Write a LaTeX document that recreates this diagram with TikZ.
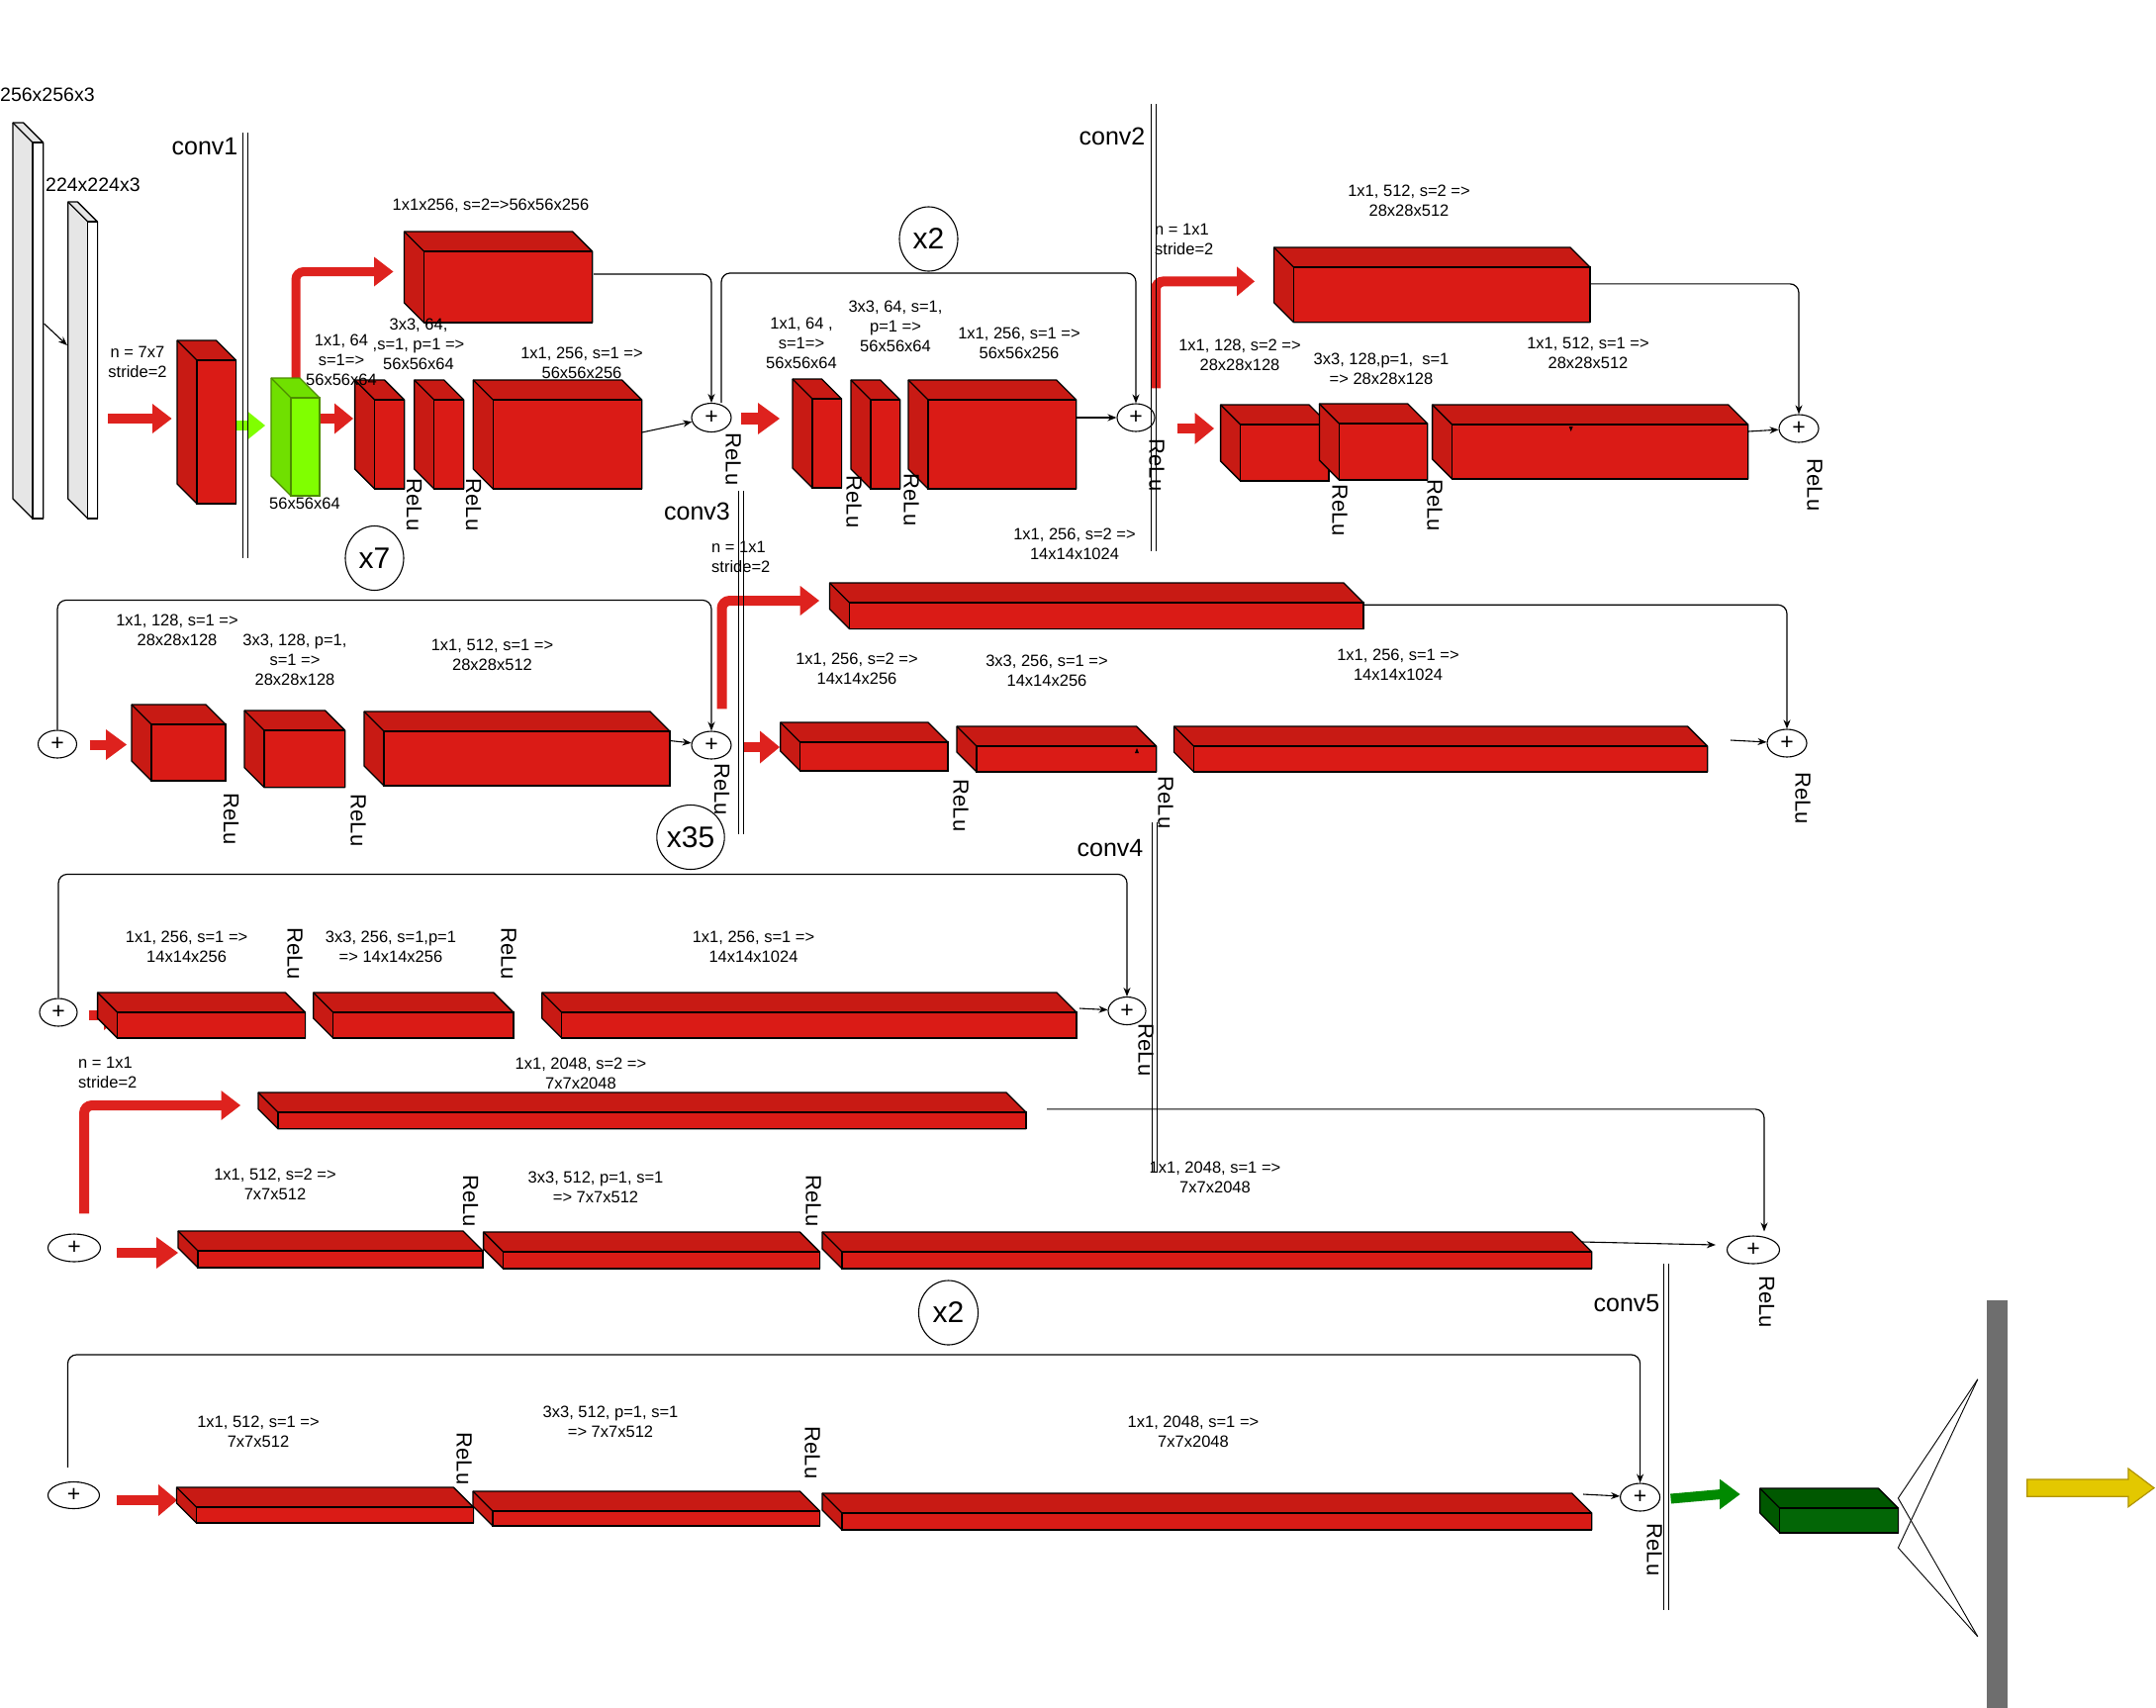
\documentclass[tikz,border=0pt]{standalone}
\usepackage{fontspec}
\setmainfont{Liberation Sans}
\usetikzlibrary{shapes.geometric,arrows.meta}
\pgfdeclarelayer{bg}\pgfdeclarelayer{fg}\pgfsetlayers{bg,main,fg}
\definecolor{rfront}{RGB}{218,27,22}
\definecolor{rside}{RGB}{200,26,20}
\definecolor{rarrow}{RGB}{222,34,30}
\definecolor{gfront}{RGB}{128,255,0}
\definecolor{gside}{RGB}{112,224,0}
\definecolor{gedge}{RGB}{76,140,0}
\definecolor{dgfront}{RGB}{3,102,6}
\definecolor{dgside}{RGB}{0,88,0}
\definecolor{dgarrow}{RGB}{0,138,0}
\definecolor{slabside}{RGB}{230,230,230}
\definecolor{barcol}{RGB}{110,110,110}
\definecolor{yfill}{RGB}{227,200,0}
\definecolor{yedge}{RGB}{176,148,0}
\tikzset{
 lbl/.style={font=\fontsize{16.5}{20}\selectfont, align=center, inner sep=0pt},
 relu/.style={font=\fontsize{22}{24}\selectfont, rotate=-90, inner sep=0pt},
 convlbl/.style={font=\fontsize{25}{30}\selectfont, inner sep=0pt},
 dimlbl/.style={font=\fontsize{19.5}{22}\selectfont, inner sep=0pt},
 plusnode/.style={draw, ellipse, line width=1.1pt, inner sep=0pt, font=\fontsize{23}{23}\selectfont, minimum width=40pt, minimum height=28pt},
 rep/.style={draw, ellipse, line width=1.1pt, inner sep=0pt, font=\fontsize{30}{30}\selectfont, minimum width=60pt, minimum height=65pt},
 thinarr/.style={line width=1.1pt, -{Stealth[length=9pt,width=7pt]}},
 skipline/.style={line width=1.2pt, rounded corners=9pt, -{Stealth[length=9pt,width=7pt]}},
 convline/.style={line width=0.8pt},
}
% cube: name, x1, y1, x2, y2 (front face), front colour, side colour, edge colour
\newcommand\cube[8]{%
  \filldraw[fill=#7, draw=#8, line width=1.3pt, line join=round]
    (#2-20,#3-20) -- (#4-20,#3-20) -- (#4,#3) -- (#4,#5) -- (#2,#5) -- (#2-20,#5-20) -- cycle;
  \node[draw=#8, line width=1.3pt, fill=#6, inner sep=0pt, outer sep=0pt,
        minimum width={#4-#2}, minimum height={#5-#3}] (#1) at ({(#2+#4)/2},{(#3+#5)/2}) {};
  \draw[#8, line width=1.3pt] (#2,#3) -- (#2-20,#3-20);
}
% straight fat arrow: colour, shaft width, head length, head half width, start name, tip name
\newcommand\fatH[6]{%
  \draw[#1, line width=#2] (#5) -- ([shift={(-#3+1,0)}]#6);
  \fill[#1] (#6) -- ([shift={(-#3,-#4)}]#6) -- ([shift={(-#3,#4)}]#6) -- cycle;
}
% L-shaped fat arrow (up then right)
\newcommand\fatL[6]{%
  \draw[#1, line width=#2, rounded corners=8pt] (#5) |- ([shift={(-#3+1,0)}]#6);
  \fill[#1] (#6) -- ([shift={(-#3,-#4)}]#6) -- ([shift={(-#3,#4)}]#6) -- cycle;
}
\begin{document}
\begin{tikzpicture}[x=1pt,y=-1pt]
\begin{pgfonlayer}{bg}
\fill[white] (0,0) rectangle (2179,1725);
\end{pgfonlayer}
\useasboundingbox (0,0) rectangle (2179,1725);

% ---------- boxes ----------
\cube{slab1}{33}{144}{43.6}{524}{white}{slabside}{black}
\cube{slab2}{88.7}{224}{98.4}{524}{white}{slabside}{black}
\cube{cbox1}{199}{364}{238.5}{509}{rfront}{rside}{black}
\cube{gbox}{294}{402}{323}{501}{gfront}{gside}{gedge}
\cube{S1}{428.5}{254}{598.6}{326}{rfront}{rside}{black}
\cube{a1}{378.6}{404}{408.6}{494}{rfront}{rside}{black}
\cube{a2}{438.7}{404}{468.7}{494}{rfront}{rside}{black}
\cube{a3}{498.3}{404}{648.6}{494}{rfront}{rside}{black}
\cube{b1}{821}{403}{850.5}{493}{rfront}{rside}{black}
\cube{b2}{880}{404}{909.7}{494}{rfront}{rside}{black}
\cube{b3}{938}{404}{1087.8}{494}{rfront}{rside}{black}
\cube{S2}{1307.5}{270}{1607}{325.7}{rfront}{rside}{black}
\cube{c1}{1253.6}{429}{1343}{486}{rfront}{rside}{black}
\cube{c2}{1353.4}{428}{1442.7}{485}{rfront}{rside}{black}
\cube{c3}{1467.6}{429}{1766.8}{484}{rfront}{rside}{black}
\cube{d1}{153}{732}{228}{789}{rfront}{rside}{black}
\cube{d2}{267}{738}{348.6}{795.7}{rfront}{rside}{black}
\cube{d3}{388}{739}{677}{794}{rfront}{rside}{black}
\cube{S3}{858.5}{609}{1378}{635.5}{rfront}{rside}{black}
\cube{e1}{808.7}{750}{958}{779}{rfront}{rside}{black}
\cube{e2}{987}{754}{1168.6}{780}{rfront}{rside}{black}
\cube{e3}{1206.5}{754}{1725.6}{780}{rfront}{rside}{black}
\cube{f1}{118.6}{1023}{308.4}{1049}{rfront}{rside}{black}
\cube{f2}{336.7}{1023}{518.9}{1049}{rfront}{rside}{black}
\cube{f3}{567.8}{1023}{1088}{1049}{rfront}{rside}{black}
\cube{S4}{281}{1124}{1037}{1140.7}{rfront}{rside}{black}
\cube{g1}{200}{1264}{488}{1281}{rfront}{rside}{black}
\cube{g2}{508.6}{1265}{828.4}{1282}{rfront}{rside}{black}
\cube{g3}{851}{1265}{1608.7}{1282}{rfront}{rside}{black}
\cube{h1}{198.5}{1523}{478.4}{1539}{rfront}{rside}{black}
\cube{h2}{498}{1527}{828.5}{1542}{rfront}{rside}{black}
\cube{h3}{851}{1529}{1608.7}{1546}{rfront}{rside}{black}
\cube{dgbox}{1798.8}{1524}{1918.4}{1549}{dgfront}{dgside}{black}

% tiny marks
\fill (1585.7,431) -- (1589.7,431) -- (1587.7,436) -- cycle;
\fill (1147,761) -- (1151,761) -- (1149,756) -- cycle;

% ---------- plus nodes ----------
\node[plusnode, minimum height=29pt] (p1) at (719,422) {+};
\node[plusnode, minimum width=38pt] (p2) at (1148,422) {+};
\node[plusnode] (p3) at (1818,433) {+};
\node[plusnode, minimum width=39pt] (p4) at (58,752) {+};
\node[plusnode] (p5) at (719,753) {+};
\node[plusnode] (p6) at (1806,751) {+};
\node[plusnode, minimum width=38pt] (p7) at (59,1023) {+};
\node[plusnode, minimum width=38pt] (p8) at (1139,1021.5) {+};
\node[plusnode, minimum width=53pt] (p9l) at (75,1261) {+};
\node[plusnode, minimum width=53pt] (p9) at (1772,1263) {+};
\node[plusnode, minimum width=52pt, minimum height=27pt] (p10) at (74.5,1511) {+};
\node[plusnode] (p11) at (1657.6,1513) {+};

% ---------- repetition marks ----------
\node[rep, minimum width=59pt] (x7) at (378.5,564) {x7};
\node[rep, minimum width=59pt] (x2a) at (938.5,241.5) {x2};
\node[rep] (x35) at (698,846) {x35};
\node[rep] (x2b) at (958.5,1326.5) {x2};

% ---------- output ----------
\node[fill=barcol, inner sep=0pt, minimum width=21pt, minimum height=412pt] (bar) at (2018.5,1520) {};
\filldraw[fill=yfill, draw=yedge, line width=1.2pt] (2048.7,1495) -- (2151,1495) -- (2151,1484) -- (2177,1503.6) -- (2151,1522.7) -- (2151,1512.3) -- (2048.7,1512.3) -- cycle;
\coordinate (fa1) at ([shift={(0,-10)}]dgbox.north east);
\coordinate (fa2) at ([shift={(0,15)}]dgbox.south east);
\coordinate (fb1) at ([shift={(-9,80)}]bar.north west);
\coordinate (fb2) at ([shift={(-9,340)}]bar.north west);
\draw[line width=0.9pt] (fb1) -- (fa1) -- (fb2);
\draw[line width=0.9pt] (fb1) -- (fa2) -- (fb2);

% ---------- arrow end coordinates ----------
\coordinate (r1s) at ([shift={(10.6,49)}]slab2.east);
\coordinate (r1t) at ([shift={(-25.5,-13.5)}]cbox1.west);
\coordinate (gls) at ([shift={(-4.5,-6.5)}]cbox1.east);
\coordinate (glt) at ([shift={(-26,-21.5)}]gbox.west);
\coordinate (r2s) at ([shift={(0,-28.5)}]gbox.east);
\coordinate (r2t) at ([shift={(-21.6,-26)}]a1.west);
\coordinate (r3s) at ([shift={(9.5,1)}]p1.east);
\coordinate (r3t) at ([shift={(-33,-25)}]b1.west);
\coordinate (r4s) at ([shift={(22,11)}]p2.east);
\coordinate (r4t) at ([shift={(-26.6,-24.5)}]c1.west);
\coordinate (r5s) at ([shift={(12.5,0.5)}]p4.east);
\coordinate (r5t) at ([shift={(-25,-8)}]d1.west);
\coordinate (r6s) at ([shift={(11.5,2)}]p5.east);
\coordinate (r6t) at ([shift={(-20.7,-9.5)}]e1.west);
\coordinate (r7s) at ([shift={(11,3)}]p7.east);
\coordinate (r7t) at ([shift={(6.4,-10)}]f1.west);
\coordinate (r8s) at ([shift={(15.7,5)}]p9l.east);
\coordinate (r8t) at ([shift={(-20,-6.5)}]g1.west);
\coordinate (r9s) at ([shift={(16.5,5)}]p10.east);
\coordinate (r9t) at ([shift={(-19.5,-15)}]h1.west);
\coordinate (l1s) at ([shift={(5,0)}]gbox.north west);
\coordinate (l1t) at ([shift={(-31,-15.5)}]S1.west);
\coordinate (l2s) at ([shift={(20,-15)}]p2.north);
\coordinate (l2t) at ([shift={(-39.5,-13.5)}]S2.west);
\coordinate (l3s) at ([shift={(10.5,-22)}]p5.north);
\coordinate (l3t) at ([shift={(-30.5,-15.25)}]S3.west);
\coordinate (l4s) at ([shift={(10,-20)}]p9l.north);
\coordinate (l4t) at ([shift={(-38,-15.35)}]S4.west);
\coordinate (dgs) at ([shift={(10.4,1.5)}]p11.east);
\coordinate (dgt) at ([shift={(-40.2,-26.5)}]dgbox.west);

\begin{pgfonlayer}{bg}
% skip connections
\draw[skipline] ([shift={(1.4,-13)}]S1.east) -| (p1.north);
\draw[skipline] ([shift={(10,0)}]p1.north) -- ++(0,-131) -| (p2.north);
\draw[skipline] ([shift={(0,-11)}]S2.east) -| (p3.north);
\draw[skipline] (p4.north) -- ++(0,-131) -| (p5.north);
\draw[skipline] ([shift={(0,-11)}]S3.east) -| (p6.north);
\draw[skipline] (p7.north) -- ++(0,-125) -| (p8.north);
\draw[skipline] ([shift={(21,-11.5)}]S4.east) -| ([shift={(11,-4)}]p9.north);
\draw[skipline] ([shift={(-6,-14)}]p10.north) -- ++(0,-114) -| (p11.north);
% fat arrows
\fatH{rarrow}{10}{19.5}{15}{r1s}{r1t}
\fatH{gfront}{10}{18}{14.5}{gls}{glt}
\fatH{rarrow}{10}{19}{15.5}{r2s}{r2t}
\fatH{rarrow}{12}{22}{16}{r3s}{r3t}
\fatH{rarrow}{10}{19.5}{16}{r4s}{r4t}
\fatH{rarrow}{10}{21}{15.5}{r5s}{r5t}
\fatH{rarrow}{10}{20}{16.5}{r6s}{r6t}
\fatH{rarrow}{10}{20}{15}{r7s}{r7t}
\fatH{rarrow}{10}{22}{16}{r8s}{r8t}
\fatH{rarrow}{10}{19}{16}{r9s}{r9t}
\fatL{rarrow}{9}{19.5}{15}{l1s}{l1t}
\fatL{rarrow}{10}{18}{15}{l2s}{l2t}
\fatL{rarrow}{10}{19.3}{15}{l3s}{l3t}
\fatL{rarrow}{10}{19.5}{15}{l4s}{l4t}
\fatH{dgarrow}{10}{20.5}{15.3}{dgs}{dgt}
\end{pgfonlayer}

% ---------- thin arrows ----------
\draw[thinarr] ([shift={(1,-7)}]slab1.east) -- ([shift={(-20.8,-25)}]slab2.west);
\draw[thinarr] ([shift={(0,-12)}]a3.east) -- (p1);
\draw[thinarr] ([shift={(0,-27)}]b3.east) -- (p2);
\draw[thinarr] ([shift={(0,-20.5)}]c3.east) -- (p3);
\draw[thinarr] ([shift={(0,-18)}]d3.east) -- (p5);
\draw[thinarr] ([shift={(23.4,-19)}]e3.east) -- (p6);
\draw[thinarr] ([shift={(3,-17)}]f3.east) -- (p8);
\draw[thinarr] ([shift={(-9.7,-18.5)}]g3.east) -- ([shift={(-11,-5)}]p9.west);
\draw[thinarr] ([shift={(-8.7,-27.5)}]h3.east) -- (p11);

% ---------- texts ----------
\node[dimlbl, anchor=west] (t256) at (0,96) {256x256x3};
\node[dimlbl, anchor=west] (t224) at (46,187) {224x224x3};
\node[convlbl] (cv1) at (207,148) {conv1};
\node[convlbl] (cv2) at (1124,138) {conv2};
\node[convlbl] (cv3) at (704.5,517) {conv3};
\node[convlbl] (cv4) at (1122,857) {conv4};
\node[convlbl] (cv5) at (1644,1317) {conv5};

\node[lbl] (n1) at (139,365.5) {n = 7x7\\stride=2};
\node[lbl, align=left, anchor=west] (n3) at (719,563) {n = 1x1\\stride=2};
\node[lbl, align=left, anchor=west] (n2) at (1167,242) {n = 1x1\\stride=2};
\node[lbl, align=left, anchor=west] (n5) at (79,1084) {n = 1x1\\stride=2};

\node[lbl] (lS1) at (496,208) {1x1x256, s=2=>56x56x256};
\node[lbl] (la1) at (345,364) {1x1, 64\\s=1=>\\56x56x64};
\node[lbl] (la2) at (423,348) {3x3, 64,\\,s=1, p=1 =>\\56x56x64};
\node[lbl] (la3) at (588,366.5) {1x1, 256, s=1 =>\\56x56x256};
\node[lbl] (lg) at (308,509) {56x56x64};
\node[lbl] (lb1) at (810,347) {1x1, 64 ,\\s=1=>\\56x56x64};
\node[lbl] (lb2) at (905,330) {3x3, 64, s=1,\\p=1 =>\\56x56x64};
\node[lbl] (lb3) at (1030,346.5) {1x1, 256, s=1 =>\\56x56x256};
\node[lbl] (lS2) at (1424,203) {1x1, 512, s=2 =>\\28x28x512};
\node[lbl] (lc1) at (1253,359) {1x1, 128, s=2 =>\\28x28x128};
\node[lbl] (lc2) at (1396,373) {3x3, 128,p=1,\ \ s=1\\=> 28x28x128};
\node[lbl] (lc3) at (1605,357) {1x1, 512, s=1 =>\\28x28x512};
\node[lbl] (lS3) at (1086,549.5) {1x1, 256, s=2 =>\\14x14x1024};
\node[lbl] (ld1) at (179,637) {1x1, 128, s=1 =>\\28x28x128};
\node[lbl] (ld2) at (298,667) {3x3, 128, p=1,\\s=1 =>\\28x28x128};
\node[lbl] (ld3) at (497.5,662) {1x1, 512, s=1 =>\\28x28x512};
\node[lbl] (le1) at (866,675.5) {1x1, 256, s=2 =>\\14x14x256};
\node[lbl] (le2) at (1058,677.5) {3x3, 256, s=1 =>\\14x14x256};
\node[lbl] (le3) at (1413,671.5) {1x1, 256, s=1 =>\\14x14x1024};
\node[lbl] (lf1) at (188.6,956.7) {1x1, 256, s=1 =>\\14x14x256};
\node[lbl] (lf2) at (395,956.7) {3x3, 256, s=1,p=1\\=> 14x14x256};
\node[lbl] (lf3) at (761.5,956.7) {1x1, 256, s=1 =>\\14x14x1024};
\node[lbl] (lS4) at (587,1085) {1x1, 2048, s=2 =>\\7x7x2048};
\node[lbl] (lg1) at (278,1197) {1x1, 512, s=2 =>\\7x7x512};
\node[lbl] (lg2) at (602,1199.5) {3x3, 512, p=1, s=1\\=> 7x7x512};
\node[lbl] (lg3) at (1228,1189.5) {1x1, 2048, s=1 =>\\7x7x2048};
\node[lbl] (lh1) at (261,1447) {1x1, 512, s=1 =>\\7x7x512};
\node[lbl] (lh2) at (617,1436.5) {3x3, 512, p=1, s=1\\=> 7x7x512};
\node[lbl] (lh3) at (1206,1447) {1x1, 2048, s=1 =>\\7x7x2048};

\node[relu] (ra1) at (418.5,510) {ReLu};
\node[relu] (ra2) at (478.5,510) {ReLu};
\node[relu] (rp1) at (741,464) {ReLu};
\node[relu] (rb1) at (863,507) {ReLu};
\node[relu] (rb2) at (921,505) {ReLu};
\node[relu] (rp2) at (1169,470) {ReLu};
\node[relu] (rc1) at (1354,515.5) {ReLu};
\node[relu] (rc2) at (1450,510.5) {ReLu};
\node[relu] (rp3) at (1834,490) {ReLu};
\node[relu] (rd1) at (233.5,827.5) {ReLu};
\node[relu] (rd2) at (362,829) {ReLu};
\node[relu] (rp5) at (729.5,797.5) {ReLu};
\node[relu] (re1) at (971,814) {ReLu};
\node[relu] (re2) at (1178,811) {ReLu};
\node[relu] (rp6) at (1822,806.5) {ReLu};
\node[relu] (rf1) at (298,963.5) {ReLu};
\node[relu] (rf2) at (514,963.5) {ReLu};
\node[relu] (rp8) at (1158,1061) {ReLu};
\node[relu] (rg1) at (475.5,1213.5) {ReLu};
\node[relu] (rg2) at (822,1213.5) {ReLu};
\node[relu] (rp9) at (1785.5,1315.5) {ReLu};
\node[relu] (rh1) at (469,1474) {ReLu};
\node[relu] (rh2) at (821,1468) {ReLu};
\node[relu] (rp11) at (1672,1566) {ReLu};

% ---------- stage separators ----------
\begin{pgfonlayer}{fg}
\draw[convline] (245.5,134) -- (245.5,564) (250.5,134) -- (250.5,564);
\draw[convline] (1163.5,105) -- (1163.5,557) (1168.5,105) -- (1168.5,557);
\draw[convline] (746.5,496) -- (746.5,843) (751.5,496) -- (751.5,843);
\draw[convline] (1164.5,831) -- (1164.5,1185) (1169.5,831) -- (1169.5,1185);
\draw[convline] (1681.5,1277) -- (1681.5,1627) (1686.5,1277) -- (1686.5,1627);
\end{pgfonlayer}
\end{tikzpicture}
\end{document}
